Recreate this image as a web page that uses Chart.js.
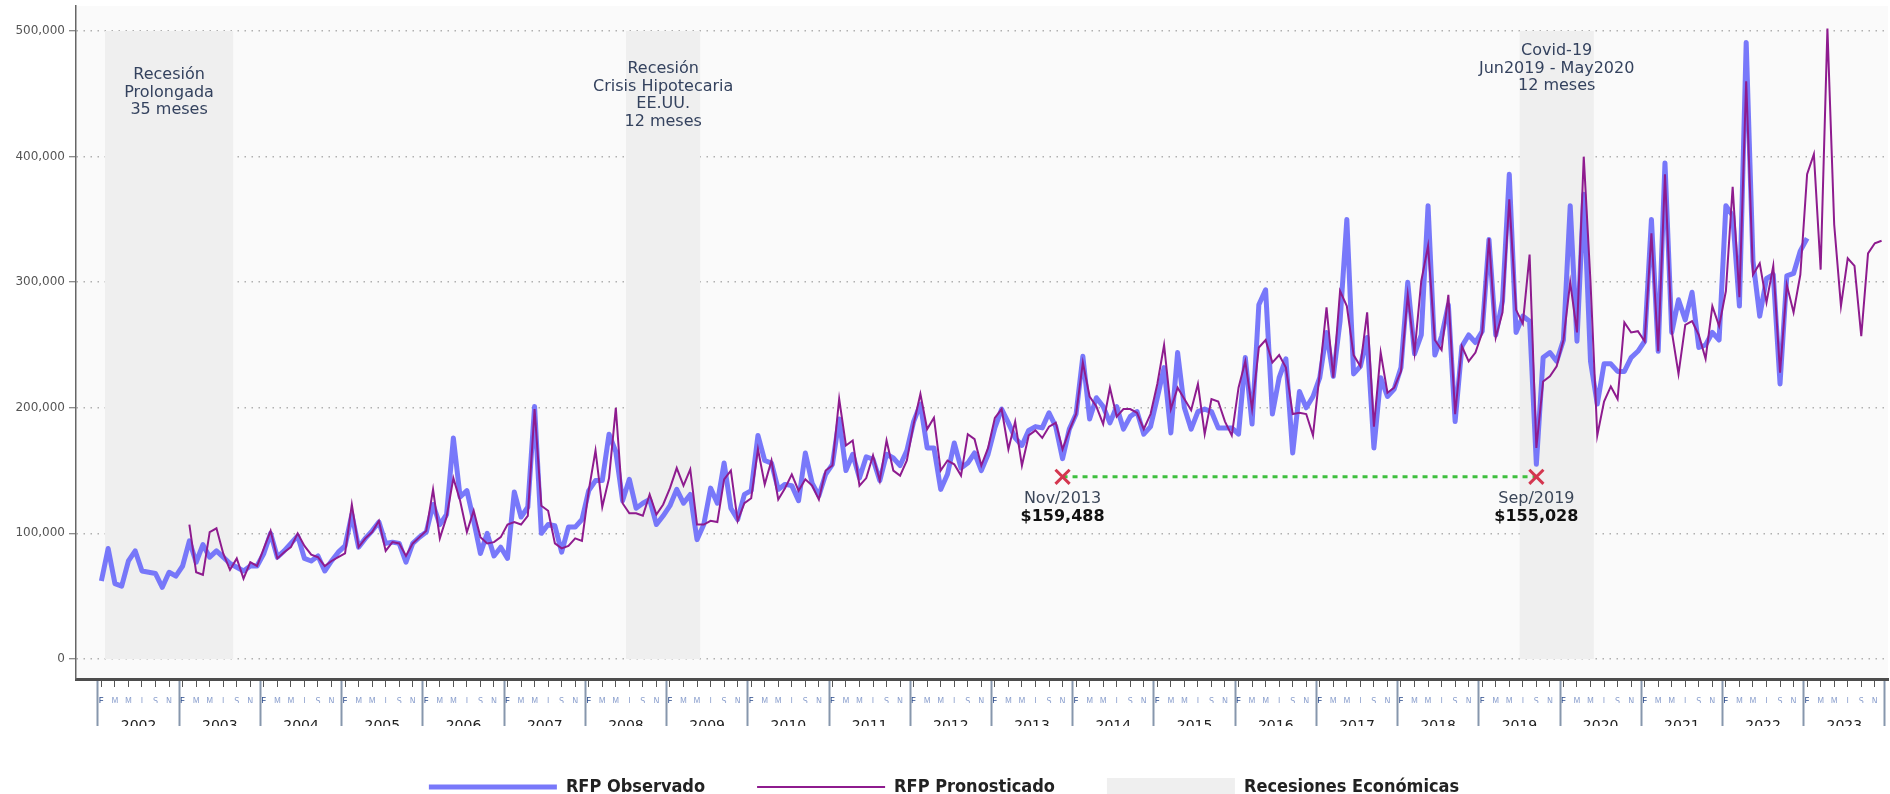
<!DOCTYPE html>
<html>
<head>
<meta charset="utf-8">
<script src="https://cdn.jsdelivr.net/npm/chart.js@4.4.1/dist/chart.umd.min.js"></script>
<style>
html,body{margin:0;padding:0;background:#ffffff;}
canvas{display:block;}
</style>
</head>
<body>
<canvas id="chart" width="1890" height="794"></canvas>
<script>
// ---------------- DATA ----------------
const years = [2002,2003,2004,2005,2006,2007,2008,2009,2010,2011,2012,2013,2014,2015,2016,2017,2018,2019,2020,2021,2022,2023];
const monthLetters = ['E','F','M','A','M','J','J','A','S','O','N','D'];

// RFP Observado (Jan 2002 - Jan 2023)
const observed = [
  62000,88000,60000,58000,78000,86000,70000,69000,68000,57000,69000,66000,
  74000,94000,77000,91000,81000,86000,81000,76000,73000,70000,74000,74000,
  84000,100000,81000,86000,92000,98000,80000,78000,82000,70000,78000,85000,
  90000,115000,89000,96000,102000,109000,92000,93000,92000,77000,92000,97000,
  101000,123000,107000,115000,176000,129000,134000,110000,84000,100000,82000,89000,
  80000,133000,113000,121000,201000,100000,107000,106000,85000,105000,105000,111000,
  134000,142000,142000,179000,165000,126000,143000,120000,124000,127000,107000,114000,
  122000,135000,124000,131000,95000,107000,136000,124000,156000,120000,111000,131000,
  134000,178000,158000,156000,135000,139000,138000,126000,164000,140000,130000,147000,
  155000,191000,150000,163000,144000,161000,159000,142000,163000,160000,154000,166000,
  189000,203000,168000,168000,135000,147000,172000,152000,156000,164000,150000,163000,
  184000,199000,188000,176000,170000,182000,185000,184000,196000,185000,159488,183000,
  195000,241000,191000,208000,201000,188000,201000,183000,193000,197000,179000,185000,
  208000,232000,180000,244000,200000,183000,197000,199000,197000,184000,184000,184000,
  179000,240000,187000,282000,294000,195000,224000,239000,164000,213000,200000,209000,
  224000,260000,225000,269000,350000,227000,233000,256000,168000,224000,209000,215000,
  232000,300000,243000,258000,361000,242000,257000,282000,189000,249000,258000,252000,
  261000,334000,258000,285000,386000,260000,273000,269000,155028,240000,244000,237000,
  254000,361000,253000,370000,237000,203000,235000,235000,229000,229000,240000,245000,
  253000,350000,245000,395000,260000,286000,270000,292000,248000,250000,260000,254000,
  361000,353000,281000,491000,317000,273000,303000,306000,219000,305000,307000,325000,
  335000
];

// RFP Pronosticado (Feb 2003 - Dec 2023)
const forecast = [
  null,null,null,null,null,null,null,null,null,null,null,null,
  null,107000,69000,67000,101000,104000,84000,71000,80000,64000,77000,74000,
  88000,102000,80000,85000,89000,100000,90000,83000,81000,74000,78000,81000,
  84000,123000,89000,96000,101000,110000,86000,93000,92000,82000,92000,97000,
  102000,135000,96000,113000,144000,126000,101000,118000,97000,92000,93000,97000,
  107000,109000,107000,114000,199000,122000,118000,92000,88000,90000,96000,94000,
  134000,166000,121000,144000,200000,124000,116000,116000,114000,131000,115000,123000,
  136000,152000,138000,151000,107000,107000,110000,109000,143000,150000,110000,124000,
  128000,167000,139000,158000,127000,136000,147000,134000,143000,138000,127000,150000,
  154000,207000,170000,174000,138000,144000,162000,142000,174000,150000,146000,158000,
  187000,211000,183000,192000,150000,158000,155000,146000,179000,175000,154000,168000,
  192000,199000,167000,189000,154000,178000,182000,176000,185000,188000,167000,182000,
  195000,236000,209000,201000,187000,216000,193000,199000,199000,196000,183000,195000,
  219000,250000,199000,216000,207000,198000,219000,179000,207000,205000,189000,178000,
  216000,237000,199000,248000,254000,236000,242000,232000,195000,196000,195000,178000,
  228000,280000,224000,293000,281000,242000,233000,276000,185000,244000,212000,216000,
  229000,290000,244000,301000,329000,254000,246000,290000,195000,249000,237000,244000,
  260000,335000,256000,276000,366000,278000,267000,322000,168000,221000,225000,233000,
  254000,300000,260000,400000,300000,178000,205000,217000,207000,268000,260000,261000,
  253000,339000,245000,386000,261000,227000,266000,269000,258000,239000,281000,265000,
  293000,376000,288000,460000,306000,315000,284000,313000,228000,298000,276000,306000,
  386000,402000,310000,502000,346000,281000,319000,313000,257000,323000,331000,333000
];

const yTicks = [0,100000,200000,300000,400000,500000];

const recessionPeriods = [['2002-02','2003-08'],['2008-07','2009-05'],['2019-07','2020-05']];
const recessionLabels = [
  ['Recesión','Prolongada','35 meses'],
  ['Recesión','Crisis Hipotecaria','EE.UU.','12 meses'],
  ['Covid-19','Jun2019 - May2020','12 meses']
];
const recessionTop = 500000;

const highlightMonths = ['2013-11','2019-09'];
const highlightLabels = ['Nov/2013','Sep/2019'];
const markerLevel = 145000;

// ---------------- DERIVED ----------------
const months = [];
years.forEach(y => { for (let m = 1; m <= 12; m++) months.push(y + '-' + String(m).padStart(2,'0')); });
const monthIndex = m => months.indexOf(m);

const observedPts = observed.map((v,i) => ({x:i, y:v}));
const forecastPts = forecast.map((v,i) => ({x:i, y:v}));
// recession shading: each period spans its months' slots; a null point separates periods
const recessionPts = [];
recessionPeriods.forEach(([s,e]) => {
  recessionPts.push({x: monthIndex(s) - 0.5, y: recessionTop});
  recessionPts.push({x: monthIndex(e) + 0.5, y: recessionTop});
  recessionPts.push({x: monthIndex(e) + 0.6, y: null});
});
const markerPts = highlightMonths.map(m => ({x:monthIndex(m), y:markerLevel}));

const isBoundary = v => Math.abs(((v + 0.5) % 12 + 12) % 12) < 1e-6;
const monthTicks = [];
for (let i = 0; i < months.length; i++) {
  if (i % 12 === 0) monthTicks.push(i - 0.5);
  if (i % 2 === 0) monthTicks.push(i);
}
monthTicks.push(months.length - 0.5);
const yearTicks = [];
for (let k = 0; k < years.length; k++) { yearTicks.push(k*12 - 0.5); yearTicks.push(k*12 + 5.5); }
yearTicks.push(years.length*12 - 0.5);

const FONT = "'DejaVu Sans', 'Noto Sans', sans-serif";
const LEGEND_FONT = "'DejaVu Sans Condensed', 'DejaVu Sans', sans-serif";
const X_MIN = -3.75, X_MAX = 263.95;

const noPadX = s => { s.paddingLeft = 0; s.paddingRight = 0; };

const decorPlugin = {
  id: 'decor',
  beforeDraw(chart) {
    const {ctx, chartArea:a} = chart;
    ctx.save();
    ctx.fillStyle = '#fafafa';
    ctx.fillRect(a.left, a.top, a.right - a.left, a.bottom - a.top);
    ctx.restore();
  },
  afterDatasetsDraw(chart) {
    const {ctx} = chart;
    const x = chart.scales.x, y = chart.scales.y;
    ctx.save();
    ctx.textAlign = 'center';
    ctx.textBaseline = 'middle';
    const offsets = [44, 38, 20];
    ctx.font = '16px ' + FONT;
    ctx.fillStyle = '#34425e';
    recessionPeriods.forEach(([s,e], k) => {
      const cx = (x.getPixelForValue(monthIndex(s) - 0.5) + x.getPixelForValue(monthIndex(e) + 0.5)) / 2;
      let cy = y.getPixelForValue(recessionTop) + offsets[k];
      recessionLabels[k].forEach(line => { ctx.fillText(line, cx, cy); cy += 17.5; });
    });
    highlightMonths.forEach((m,k) => {
      const idx = monthIndex(m);
      const px = x.getPixelForValue(idx), py = y.getPixelForValue(markerLevel);
      ctx.font = '16px ' + FONT;
      ctx.fillStyle = '#3b4658';
      ctx.fillText(highlightLabels[k], px, py + 22);
      ctx.font = 'bold 16px ' + FONT;
      ctx.fillStyle = '#111111';
      ctx.fillText('$' + observed[idx].toLocaleString('en-US'), px, py + 40);
    });
    ctx.restore();
  }
};

new Chart(document.getElementById('chart'), {
  type: 'line',
  data: {
    datasets: [
      { label: 'RFP Observado', data: observedPts, borderColor: 'rgba(108,108,250,0.92)', backgroundColor: 'rgba(108,108,250,0.92)',
        borderWidth: 5, pointBorderWidth: 5, pointRadius: 0, pointStyle: 'line', tension: 0, borderJoinStyle: 'round', order: 4 },
      { label: 'RFP Pronosticado', data: forecastPts, borderColor: '#8e1b8e', backgroundColor: '#8e1b8e',
        borderWidth: 2, pointBorderWidth: 2, pointRadius: 0, pointStyle: 'line', tension: 0, order: 3 },
      { label: 'Recesiones Económicas', data: recessionPts, backgroundColor: '#efefef', borderColor: 'rgba(0,0,0,0)',
        borderWidth: 0, pointBorderWidth: 0, pointRadius: 0, pointStyle: 'rect', fill: 'origin', spanGaps: false, order: 5 },
      { label: 'gap', data: markerPts, borderColor: '#3fbf3f', borderWidth: 3, borderDash: [5,5], pointRadius: 0, fill: false, order: 2 },
      { label: 'marks', data: markerPts, showLine: false, pointStyle: 'crossRot', pointRadius: 10, pointBorderWidth: 3,
        pointBorderColor: '#d4364f', borderColor: '#d4364f', fill: false, order: 1 }
    ]
  },
  options: {
    responsive: false,
    animation: false,
    devicePixelRatio: 1,
    events: [],
    layout: { autoPadding: false, padding: { top: 6, right: 2, bottom: -12, left: 0 } },
    plugins: {
      tooltip: { enabled: false },
      filler: { propagate: false },
      legend: {
        position: 'bottom', align: 'center',
        labels: {
          usePointStyle: true, pointStyleWidth: 128, padding: 52, color: '#222222',
          font: { family: LEGEND_FONT, size: 18, weight: 'bold' },
          filter: item => item.datasetIndex < 3,
          sort: (a,b) => a.datasetIndex - b.datasetIndex
        }
      }
    },
    scales: {
      x: {
        type: 'linear', position: 'bottom', min: X_MIN, max: X_MAX, offset: false, weight: 0,
        afterBuildTicks: s => { s.ticks = monthTicks.map(v => ({value: v})); },
        afterFit: s => { s.height = 24; noPadX(s); },
        ticks: {
          autoSkip: false, maxRotation: 0, minRotation: 0, padding: -6,
          font: { family: FONT, size: 8 },
          color: c => (c.tick && c.tick.value % 12 === 0) ? '#2b4b8c' : '#8ea2cf',
          callback: v => isBoundary(v) ? '' : monthLetters[((v % 12) + 12) % 12]
        },
        grid: {
          drawOnChartArea: false, offset: false, tickLength: 24,
          tickColor: c => (c.tick && isBoundary(c.tick.value)) ? '#8797ad' : '#555555',
          tickWidth: c => (c.tick && isBoundary(c.tick.value)) ? 2 : 1,
          tickBorderDash: c => (c.tick && isBoundary(c.tick.value)) ? [] : [6, 60]
        },
        border: { display: true, color: '#4d4d4d', width: 3 }
      },
      x2: {
        type: 'linear', position: 'bottom', min: X_MIN, max: X_MAX, offset: false, weight: 1,
        afterBuildTicks: s => { s.ticks = yearTicks.map(v => ({value: v})); },
        afterFit: s => { s.height = 23; noPadX(s); },
        ticks: {
          autoSkip: false, maxRotation: 0, minRotation: 0, padding: -8,
          font: { family: FONT, size: 14 }, color: '#222222',
          callback: v => isBoundary(v) ? '' : String(years[Math.floor(v / 12)])
        },
        grid: {
          drawOnChartArea: false, offset: false, tickLength: 23,
          tickColor: c => (c.tick && isBoundary(c.tick.value)) ? '#8797ad' : 'rgba(0,0,0,0)',
          tickWidth: 2
        },
        border: { display: false }
      },
      y: {
        type: 'linear', position: 'left', min: -16000, max: 520000,
        afterBuildTicks: s => { s.ticks = yTicks.map(v => ({value: v})); },
        afterFit: s => { s.width = 76; s.paddingTop = 0; s.paddingBottom = 0; },
        ticks: { padding: 4, color: '#555555', font: { family: FONT, size: 12 }, callback: v => v.toLocaleString('en-US') },
        grid: { color: '#b0b0b0', lineWidth: 1.5, tickLength: 7, tickColor: '#666666', tickWidth: 1 },
        border: { display: true, color: '#666666', width: 1.5, dash: [1.5, 5.5] }
      }
    }
  },
  plugins: [decorPlugin]
});
</script>
</body>
</html>
